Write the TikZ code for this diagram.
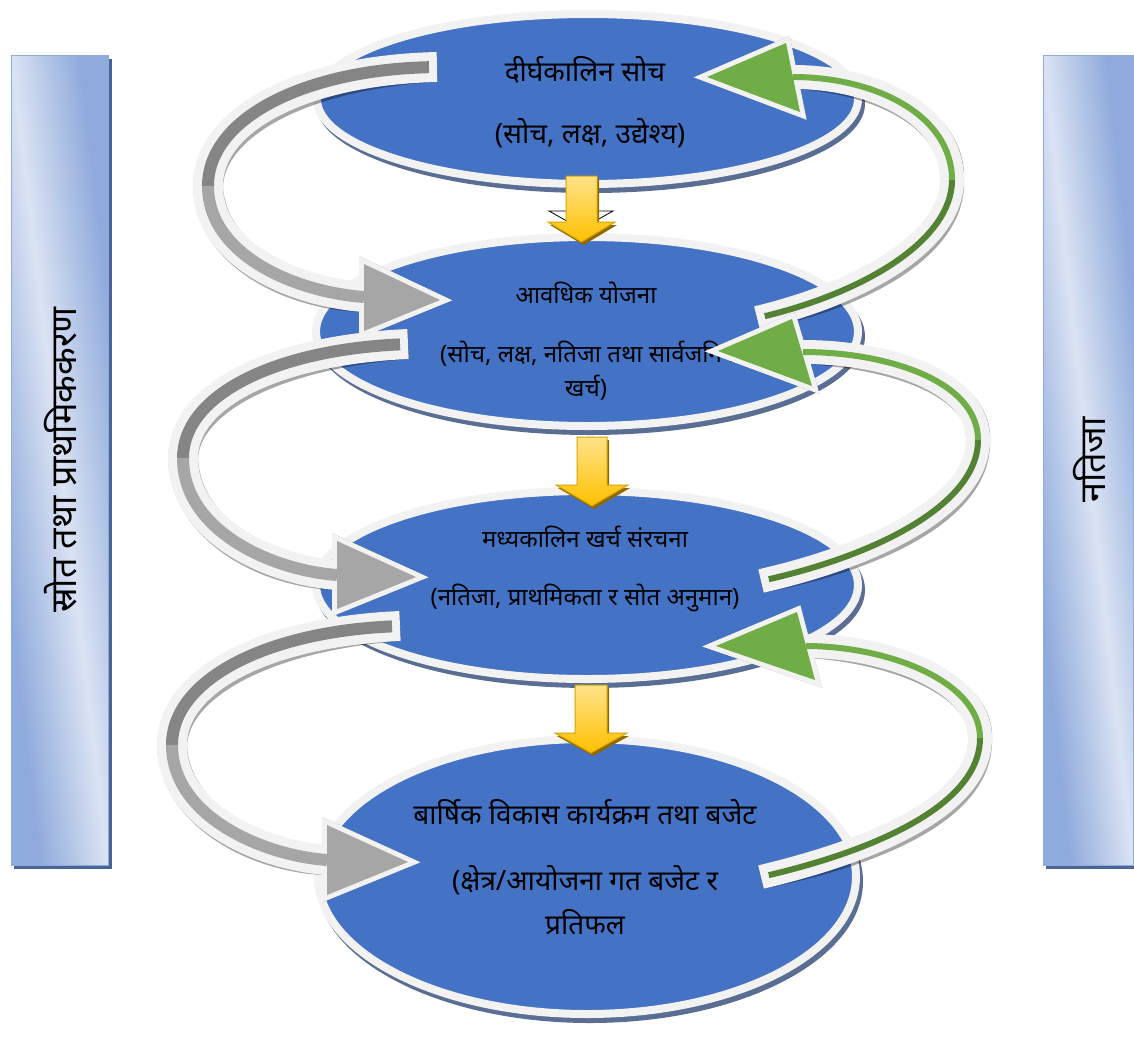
\documentclass[tikz,border=0pt]{standalone}
\usepackage{fontspec}
\newfontfamily\dev[Script=Devanagari]{Noto Sans}
\usetikzlibrary{shapes.geometric}
\definecolor{eblue}{HTML}{4472C4}
\definecolor{ering}{HTML}{F2F2F2}
\definecolor{eshadow}{HTML}{5A6D92}
\definecolor{gdark}{HTML}{858585}
\definecolor{glight}{HTML}{A6A6A6}
\definecolor{grlight}{HTML}{70AD47}
\definecolor{grdark}{HTML}{548235}
\definecolor{barlight}{HTML}{DAE3F3}
\definecolor{bardark}{HTML}{8FAADC}
\definecolor{barshadow}{HTML}{4A6594}
\definecolor{ytop}{HTML}{FFE38A}
\definecolor{ybot}{HTML}{FFC000}
\definecolor{yline}{HTML}{D9A300}
\definecolor{yshadow}{HTML}{8C6A00}
\tikzset{
  ellbox/.style={ellipse, draw=ering, line width=8pt, fill=eblue, inner sep=0pt},
  dv/.style={font=\dev\fontsize{#1}{#1}\selectfont, text=black, inner sep=0pt, anchor=center},
  barbox/.style={rectangle, draw=bardark, line width=1pt, inner sep=0pt},
  barshading/.style={left color=bardark, right color=bardark, middle color=barlight, shading angle=135},
  gwhite/.style={draw=ering, line width=30pt},
  gshade/.style={draw=black, draw opacity=.35, line width=30pt},
  ginner/.style={line width=12pt},
  grwhite/.style={draw=ering, line width=24pt},
  grshade/.style={draw=black, draw opacity=.35, line width=24pt},
  grinner/.style={line width=6pt},
  headwhite/.style={draw=ering, fill=ering, line width=10pt, line join=miter},
  headshade/.style={draw=black, fill=black, opacity=.35, line width=10pt, line join=miter},
  yarrowbox/.style={top color=ytop, bottom color=ybot, draw=yline, line width=1pt, line join=miter},
}
% gray arrow: #1 id, #2 controls part 1, #3 controls part 2
\newcommand\grayarrow[3]{%
  \begin{scope}[shift={(3,4)}]
    \draw[gshade] (#1t) .. controls #2 .. (#1l) .. controls #3 .. (#1b);
    \path[headshade] (#1u) -- (#1h) -- (#1d) -- cycle;
  \end{scope}
  \draw[gwhite] (#1t) .. controls #2 .. (#1l) .. controls #3 .. (#1b);
  \path[headwhite] (#1u) -- (#1h) -- (#1d) -- cycle;
  \draw[ginner, draw=gdark, shorten <=8pt] (#1t) .. controls #2 .. (#1l);
  \draw[ginner, draw=glight] (#1l) .. controls #3 .. (#1b);
  \fill[glight] (#1u) -- (#1h) -- (#1d) -- cycle;
}
\newcommand\greenarrow[3]{%
  \begin{scope}[shift={(3,4)}]
    \draw[grshade] (#1t) .. controls #2 .. (#1l) .. controls #3 .. (#1b);
    \path[headshade] (#1u) -- (#1h) -- (#1d) -- cycle;
  \end{scope}
  \draw[grwhite] (#1t) .. controls #2 .. (#1l) .. controls #3 .. (#1b);
  \path[headwhite] (#1u) -- (#1h) -- (#1d) -- cycle;
  \draw[grinner, draw=grdark, shorten <=8pt] (#1t) .. controls #2 .. (#1l);
  \draw[grinner, draw=grlight] (#1l) .. controls #3 .. (#1b);
  \fill[grlight] (#1u) -- (#1h) -- (#1d) -- cycle;
}
% yellow arrow: x1 x2 top base headleft headright tipx tipy
\newcommand\yarrow[8]{%
  \begin{scope}[shift={(2,3)}]
    \fill[yshadow] (#1,#3) -- (#2,#3) -- (#2,#4) -- (#6,#4) -- (#7,#8) -- (#5,#4) -- (#1,#4) -- cycle;
  \end{scope}
  \path[yarrowbox] (#1,#3) -- (#2,#3) -- (#2,#4) -- (#6,#4) -- (#7,#8) -- (#5,#4) -- (#1,#4) -- cycle;
}
\begin{document}
\begin{tikzpicture}[x=1pt,y=-1pt]
\useasboundingbox (0,0) rectangle (1134,1037);
\fill[white] (0,0) rectangle (1134,1037);

% side bars
\fill[barshadow] (14,59) rectangle (112,869);
\begin{scope}[transform canvas={shift={(59.5,460)}, xscale=0.97, yscale=8.1}]
  \shade[barshading] (-50,-50) rectangle (50,50);
\end{scope}
\node[barbox, minimum width=97pt, minimum height=810pt] (lbar) at (59.5,460) {};
\fill[barshadow] (1046,59) rectangle (1137,869);
\begin{scope}[transform canvas={shift={(1088,460)}, xscale=0.90, yscale=8.1}]
  \shade[barshading] (-50,-50) rectangle (50,50);
\end{scope}
\node[barbox, minimum width=90pt, minimum height=810pt] (rbar) at (1088,460) {};
\node[dv=36, rotate=90] (ltext) at ([xshift=1pt]lbar.center) {स्रोत तथा प्राथमिककरण};
\node[dv=36, rotate=90] (rtext) at ([xshift=2pt]rbar.center) {नतिजा};

% ellipses
\fill[eshadow] (590.5,104) ellipse [x radius=274.5, y radius=89];
\node[ellbox, minimum width=541pt, minimum height=170pt] (e1) at (587.5,99) {};
\fill[eshadow] (590,336.5) ellipse [x radius=275, y radius=98.5];
\node[ellbox, minimum width=542pt, minimum height=189pt] (e2) at (587,331.5) {};
\fill[eshadow] (590,590) ellipse [x radius=275, y radius=98];
\node[ellbox, minimum width=542pt, minimum height=188pt] (e3) at (587,585) {};
\fill[eshadow] (590,881.5) ellipse [x radius=273, y radius=141.5];
\node[ellbox, minimum width=538pt, minimum height=275pt] (e4) at (587,876.5) {};

% texts
\node[dv=28] (t1a) at (585,70) {दीर्घकालिन सोच};
\node[dv=28] (t1b) at (590,133) {(सोच, लक्ष, उद्येश्य)};
\node[dv=24] (t2a) at (586,293) {आवधिक योजना};
\node[dv=24, anchor=west] (t2b) at (440,354) {(सोच, लक्ष, नतिजा तथा सार्वजनिक};
\node[dv=24] (t2c) at (586,388) {खर्च)};
\node[dv=24] (t3a) at (585,537) {मध्यकालिन खर्च संरचना};
\node[dv=24] (t3b) at (585,598) {(नतिजा, प्राथमिकता र सोत अनुमान)};
\node[dv=28] (t4a) at (585,812) {बार्षिक विकास कार्यक्रम तथा बजेट};
\node[dv=28] (t4b) at (585,880) {(क्षेत्र/आयोजना गत बजेट र};
\node[dv=28] (t4c) at (585,922) {प्रतिफल};

% gray arrows (left)
\coordinate (pt) at (437,67);  \coordinate (pl) at (208,186); \coordinate (pb) at (364,297);
\coordinate (ph) at (440,300); \coordinate (pu) at (364,264); \coordinate (pd) at (364,331);
\grayarrow{p}{(305,70) and (208,118)}{(208,255) and (295,292)}
\coordinate (qt) at (408,344); \coordinate (ql) at (183,458); \coordinate (qb) at (337,575);
\coordinate (qh) at (416,577); \coordinate (qu) at (337,541); \coordinate (qd) at (337,609);
\grayarrow{q}{(275,350) and (183,395)}{(183,530) and (270,570)}
\coordinate (rt) at (400,626); \coordinate (rl) at (172,745); \coordinate (rb) at (327,860);
\coordinate (rh) at (408,862); \coordinate (ru) at (327,825); \coordinate (rd) at (327,895);
\grayarrow{r}{(265,632) and (172,680)}{(172,815) and (260,855)}

% green arrows (right)
\coordinate (at) at (757,318); \coordinate (al) at (952,180); \coordinate (ab) at (793,77);
\coordinate (ah) at (707,77);  \coordinate (au) at (786,43);  \coordinate (ad) at (800,112);
\greenarrow{a}{(865,292) and (952,240)}{(952,115) and (875,77)}
\coordinate (bt) at (761,581); \coordinate (bl) at (978,440); \coordinate (bb) at (803,352);
\coordinate (bh) at (718,351); \coordinate (bu) at (792,319); \coordinate (bd) at (812,386);
\greenarrow{b}{(875,555) and (978,505)}{(978,380) and (885,352)}
\coordinate (ct) at (761,877); \coordinate (cl) at (980,738); \coordinate (cb) at (806,646);
\coordinate (ch) at (716,646); \coordinate (cu) at (797,612); \coordinate (cd) at (815,680);
\greenarrow{c}{(875,850) and (980,805)}{(980,680) and (885,646)}

% small outlined tip behind first yellow arrow
\draw[black, fill=white, line width=0.8pt] (549,211) -- (613,211) -- (581,229) -- cycle;

% yellow arrows
\yarrow{566}{597}{176}{222}{548}{615}{581.5}{242}
\yarrow{577}{607}{437}{485}{556}{628}{592}{506}
\yarrow{575}{607}{685}{733}{555}{627}{591}{753}
\end{tikzpicture}
\end{document}
